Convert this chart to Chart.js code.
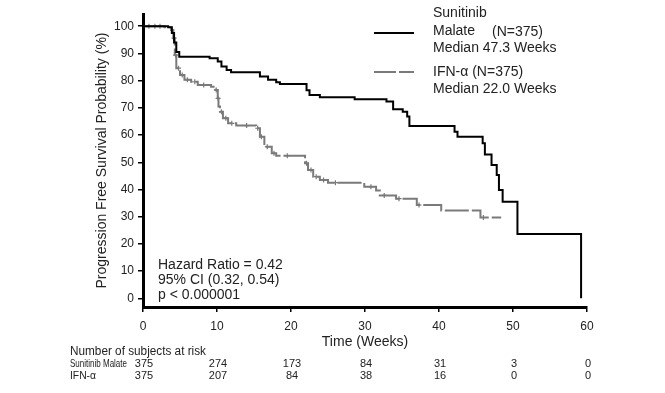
<!DOCTYPE html>
<html>
<head>
<meta charset="utf-8">
<script src="https://cdn.jsdelivr.net/npm/chart.js@4.4.0/dist/chart.umd.min.js"></script>
<style>
html, body { margin: 0; padding: 0; background: #fff; }
</style>
</head>
<body>
<canvas id="pfsChart" width="665" height="393"></canvas>
<script>
// Kaplan-Meier steps (weeks, % progression free)
const sunWeeks = [0, 3.4, 3.9, 4.2, 4.5, 4.9, 9.0, 10.1, 10.6, 11.3, 11.9, 15.8, 16.9, 18.0, 18.5, 22.1, 22.5, 23.9, 28.6, 32.9, 33.8, 35.1, 35.7, 36.0, 42.1, 42.5, 45.9, 46.2, 47.1, 47.8, 48.1, 48.6, 50.6, 59.2];
const sunPfs = [100, 99.6, 97.5, 94, 90.5, 88.8, 88.2, 87.0, 85.2, 83.9, 83.1, 81.5, 80.3, 79.4, 78.8, 76.5, 74.7, 73.9, 73.2, 72.3, 69.5, 68.6, 66.8, 63.3, 61.2, 59.4, 57.0, 52.9, 49.0, 45.3, 39.8, 35.5, 23.6, 0];

const ifnWeeks = [0, 2.9, 3.8, 4.1, 4.3, 4.5, 5.0, 5.6, 6.5, 7.4, 9.2, 9.8, 10.1, 10.2, 10.4, 10.8, 11.5, 12.6, 15.3, 15.8, 16.4, 17.4, 18.0, 21.9, 22.3, 23.0, 23.9, 25.0, 29.9, 31.5, 32.0, 34.2, 37.0, 40.3, 45.6, 48.4];
const ifnPfs = [100, 99.6, 98.6, 95.6, 89.4, 84.6, 82.1, 80.3, 79.6, 78.4, 77.8, 76.6, 73.5, 70.5, 68.6, 66.2, 64.3, 63.5, 62.5, 59.4, 55.7, 53.3, 52.4, 49.6, 47.2, 44.7, 43.5, 42.5, 41.0, 39.6, 37.8, 36.6, 34.3, 32.3, 29.7, 29.7];

// censored subjects (+ marks) on the IFN-α curve
const ifnCensorWeeks = [0.8, 1.6, 2.3, 4.2, 4.4, 4.8, 5.3, 6.0, 7.0, 8.2, 9.9, 10.15, 10.6, 11.2, 12.0, 14.0, 15.5, 16.0, 16.8, 17.7, 19.5, 22.1, 22.7, 23.4, 24.4, 26.0, 30.8, 32.6, 34.6, 37.3, 46.0];
const ifnCensorPfs = [100, 100, 100, 95.6, 89.4, 84.6, 82.1, 80.3, 79.6, 78.4, 76.6, 73.5, 68.6, 66.2, 64.3, 63.5, 62.5, 59.4, 55.7, 53.3, 52.4, 49.6, 47.2, 44.7, 43.5, 42.5, 41.0, 37.8, 36.6, 34.3, 29.7];

const xTicks = [0, 10, 20, 30, 40, 50, 60];
const yTicks = [0, 10, 20, 30, 40, 50, 60, 70, 80, 90, 100];

const riskWeeks = [0, 10, 20, 30, 40, 50, 60];
const riskSun = [375, 274, 173, 84, 31, 3, 0];
const riskIfn = [375, 207, 84, 38, 16, 0, 0];

const FONT = "'Liberation Sans', Arial, sans-serif";
const GREY = '#7a7a7a';

const toPts = (xs, ys) => xs.map((x, i) => ({ x: x, y: ys[i] }));

// legend, hazard ratio box and the at-risk table
const extrasPlugin = {
    id: 'extras',
    afterDraw(chart) {
        const ctx = chart.ctx;
        const xs = chart.scales.x;
        ctx.save();
        ctx.fillStyle = '#222';
        ctx.textBaseline = 'middle';
        ctx.textAlign = 'left';

        // legend
        ctx.font = '14px ' + FONT;
        ctx.fillText('Sunitinib', 433, 13);
        ctx.fillText('Malate', 433, 31);
        ctx.fillText('(N=375)', 492, 32);
        ctx.fillText('Median 47.3 Weeks', 433, 48);
        ctx.fillText('IFN-\u03b1 (N=375)', 433, 72);
        ctx.fillText('Median 22.0 Weeks', 433, 89);

        ctx.lineWidth = 2;
        ctx.strokeStyle = '#000';
        ctx.beginPath();
        ctx.moveTo(374, 33);
        ctx.lineTo(414, 33);
        ctx.stroke();
        ctx.strokeStyle = GREY;
        ctx.setLineDash([22, 3]);
        ctx.beginPath();
        ctx.moveTo(374, 72);
        ctx.lineTo(414, 72);
        ctx.stroke();
        ctx.setLineDash([]);

        // hazard ratio
        ctx.fillText('Hazard Ratio = 0.42', 158, 265);
        ctx.fillText('95% CI (0.32, 0.54)', 158, 280);
        ctx.fillText('p < 0.000001', 158, 295);

        // number at risk
        ctx.font = '12px ' + FONT;
        ctx.fillText('Number of subjects at risk', 70, 352, 136);
        ctx.font = '11px ' + FONT;
        ctx.fillText('Sunitinib Malate', 70, 364, 57);
        ctx.fillText('IFN-\u03b1', 70, 376, 26);
        ctx.textAlign = 'center';
        riskWeeks.forEach((w, i) => {
            const px = xs.getPixelForValue(w);
            ctx.fillText(String(riskSun[i]), px + 1, 364);
            ctx.fillText(String(riskIfn[i]), px + 1, 376);
        });
        ctx.restore();
    }
};

const ctx = document.getElementById('pfsChart').getContext('2d');
const pfsChart = new Chart(ctx, {
    type: 'line',
    data: {
        datasets: [
            {
                label: 'Sunitinib Malate',
                data: toPts(sunWeeks, sunPfs),
                borderColor: '#000',
                borderWidth: 2,
                stepped: true,
                pointRadius: 0,
                fill: false
            },
            {
                label: 'IFN-\u03b1',
                data: toPts(ifnWeeks, ifnPfs),
                borderColor: GREY,
                borderWidth: 2,
                borderDash: [24, 3],
                stepped: true,
                pointRadius: 0,
                fill: false
            },
            {
                label: 'IFN-\u03b1 censored',
                data: toPts(ifnCensorWeeks, ifnCensorPfs),
                showLine: false,
                pointStyle: 'cross',
                pointRadius: 2.5,
                pointBorderWidth: 1.2,
                borderColor: GREY,
                backgroundColor: GREY
            }
        ]
    },
    options: {
        responsive: false,
        animation: false,
        layout: {
            padding: { top: 14, right: 78, left: 0, bottom: 0 }
        },
        plugins: {
            legend: { display: false },
            tooltip: { enabled: false },
            title: { display: false }
        },
        scales: {
            x: {
                type: 'linear',
                min: 0,
                max: 60,
                afterBuildTicks: (scale) => { scale.ticks = xTicks.map(v => ({ value: v })); },
                afterFit: (scale) => { scale.height = 86; },
                grid: { drawOnChartArea: false, drawTicks: true, tickLength: 5, color: '#000', lineWidth: 1.5 },
                border: { display: true, color: '#000', width: 3 },
                ticks: { padding: 7, color: '#222', font: { family: FONT, size: 12 } },
                title: {
                    display: true,
                    text: 'Time (Weeks)',
                    color: '#222',
                    font: { family: FONT, size: 14 },
                    padding: { top: 0, bottom: 42 }
                }
            },
            y: {
                min: -3.2,
                max: 104.5,
                afterBuildTicks: (scale) => { scale.ticks = yTicks.map(v => ({ value: v })); },
                afterFit: (scale) => { scale.width = 143; },
                grid: { drawOnChartArea: false, drawTicks: true, tickLength: 5, color: '#000', lineWidth: 1.5 },
                border: { display: true, color: '#000', width: 3 },
                ticks: { padding: 4, color: '#222', font: { family: FONT, size: 12 } },
                title: {
                    display: true,
                    text: 'Progression Free Survival Probability (%)',
                    color: '#222',
                    font: { family: FONT, size: 14 },
                    padding: { top: 94, bottom: 0 }
                }
            }
        }
    },
    plugins: [extrasPlugin]
});
</script>
</body>
</html>
